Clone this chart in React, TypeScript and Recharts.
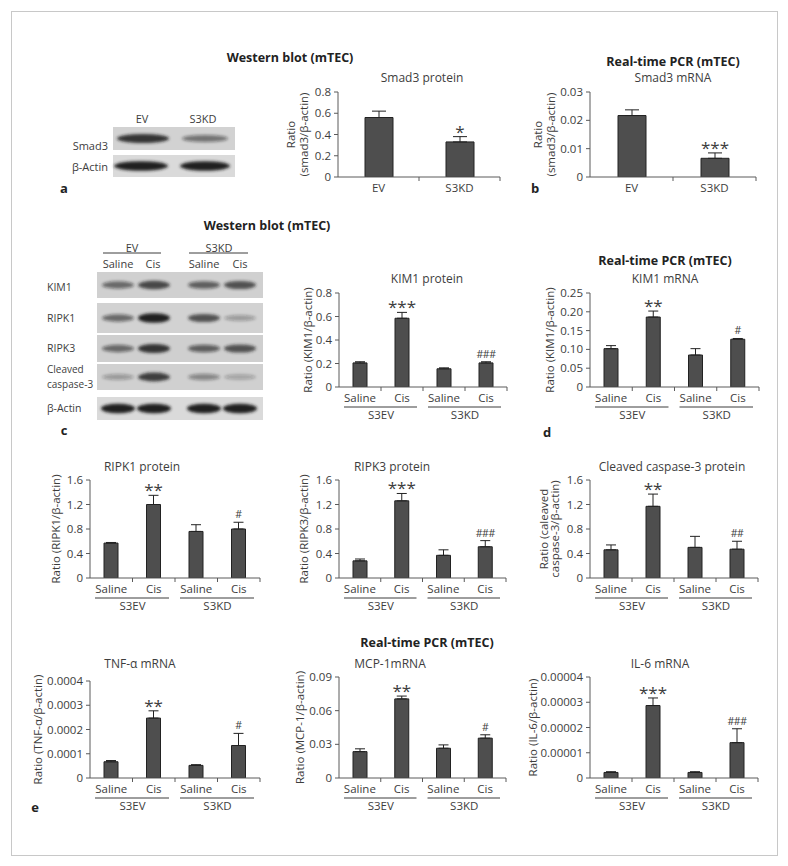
import React from 'react';
import { BarChart, Bar, XAxis, YAxis, ErrorBar, LabelList } from 'recharts';

// categories
const pairCats = ['EV', 'S3KD'];
const treatCats = ['Saline', 'Cis', 'Saline', 'Cis'];
const groupNames = ['S3EV', 'S3EV', 'S3KD', 'S3KD'];

// a: Smad3 protein
const smad3ProtMean = [0.56, 0.33];
const smad3ProtErr = [0.06, 0.05];
const smad3ProtSig = ['', '*'];
const smad3ProtTicks = [0, 0.2, 0.4, 0.6, 0.8];
const smad3ProtLabels = ['0', '0.2', '0.4', '0.6', '0.8'];

// b: Smad3 mRNA
const smad3MrnaMean = [0.0217, 0.0066];
const smad3MrnaErr = [0.002, 0.0019];
const smad3MrnaSig = ['', '***'];
const smad3MrnaTicks = [0, 0.01, 0.02, 0.03];
const smad3MrnaLabels = ['0', '0.01', '0.02', '0.03'];

// c: KIM1 protein
const kim1ProtMean = [0.205, 0.585, 0.155, 0.205];
const kim1ProtErr = [0.01, 0.05, 0.008, 0.01];
const kim1ProtSig = ['', '***', '', '###'];
const kim1ProtTicks = [0, 0.2, 0.4, 0.6, 0.8];
const kim1ProtLabels = ['0', '0.2', '0.4', '0.6', '0.8'];

// d: KIM1 mRNA
const kim1MrnaMean = [0.102, 0.186, 0.085, 0.127];
const kim1MrnaErr = [0.008, 0.016, 0.017, 0.002];
const kim1MrnaSig = ['', '**', '', '#'];
const kim1MrnaTicks = [0, 0.05, 0.1, 0.15, 0.2, 0.25];
const kim1MrnaLabels = ['0', '0.05', '0.10', '0.15', '0.20', '0.25'];

// row 3: proteins
const ripk1Mean = [0.57, 1.2, 0.76, 0.8];
const ripk1Err = [0.01, 0.15, 0.11, 0.11];
const ripk1Sig = ['', '**', '', '#'];
const ripk3Mean = [0.28, 1.26, 0.37, 0.51];
const ripk3Err = [0.03, 0.12, 0.09, 0.1];
const ripk3Sig = ['', '***', '', '###'];
const casp3Mean = [0.46, 1.17, 0.5, 0.47];
const casp3Err = [0.08, 0.2, 0.18, 0.13];
const casp3Sig = ['', '**', '', '##'];
const proteinTicks = [0, 0.4, 0.8, 1.2, 1.6];
const proteinLabels = ['0', '0.4', '0.8', '1.2', '1.6'];

// e: mRNA
const tnfMean = [0.000067, 0.000247, 0.000052, 0.000134];
const tnfErr = [0.000005, 0.00003, 0.000003, 0.00005];
const tnfSig = ['', '**', '', '#'];
const tnfTicks = [0, 0.0001, 0.0002, 0.0003, 0.0004];
const tnfLabels = ['0', '0.0001', '0.0002', '0.0003', '0.0004'];
const mcp1Mean = [0.0235, 0.0705, 0.0265, 0.0355];
const mcp1Err = [0.0025, 0.0025, 0.003, 0.003];
const mcp1Sig = ['', '**', '', '#'];
const mcp1Ticks = [0, 0.03, 0.06, 0.09];
const mcp1Labels = ['0', '0.03', '0.06', '0.09'];
const il6Mean = [0.0000022, 0.0000287, 0.0000022, 0.000014];
const il6Err = [0.0000003, 0.000003, 0.0000003, 0.0000055];
const il6Sig = ['', '***', '', '###'];
const il6Ticks = [0, 0.00001, 0.00002, 0.00003, 0.00004];
const il6Labels = ['0', '0.00001', '0.00002', '0.00003', '0.00004'];

const FONT = '"Open Sans", "Noto Sans", sans-serif';
const TXT = '#3d3d3d';
const AX = '#5a5a5a';
const BAR = '#4e4e4e';
const EDGE = '#222';

type Rect = { x: number; y: number; w: number; h: number };

interface PanelProps {
  cats: string[];
  groups?: string[];
  mean: number[];
  err: number[];
  sig: string[];
  ticks: number[];
  tickLabels: string[];
  plot: Rect;
  barSize: number;
  cap: number;
  ylabel: { text: string; dist: number }[];
}

const YW = 72;
const XH = 40;
const MT = 14;
const MR = 12;

const BarPanel: React.FC<PanelProps> = (p) => {
  const n = p.cats.length;
  const bw = p.plot.w / n;
  const data = p.cats.map((c, i) => ({
    key: `${p.groups ? p.groups[i] : ''}-${c}-${i}`,
    mean: p.mean[i],
    err: [0, p.err[i]],
  }));
  const width = p.plot.w + YW + MR;
  const height = p.plot.h + MT + XH;

  const renderTick = (props: any) => {
    const { x, y } = props;
    const i = props.index;
    const left = x - bw / 2;
    return (
      <g>
        {i > 0 && <line x1={left} y1={y} x2={left} y2={y + 4} stroke={AX} />}
        {i === n - 1 && <line x1={x + bw / 2} y1={y} x2={x + bw / 2} y2={y + 4} stroke={AX} />}
        <text x={x} y={y + 15} textAnchor="middle" fontSize={11.5} fill={TXT} fontFamily={FONT}>
          {p.cats[i]}
        </text>
        {p.groups && i % 2 === 0 && (
          <g>
            <line x1={left + 5} y1={y + 20} x2={left + 2 * bw - 6} y2={y + 20} stroke={TXT} strokeWidth={1} />
            <text x={left + bw} y={y + 32} textAnchor="middle" fontSize={11.5} fill={TXT} fontFamily={FONT}>
              {p.groups[i]}
            </text>
          </g>
        )}
      </g>
    );
  };

  const renderSig = (props: any) => {
    const { x, y, width: w, height: h, index } = props;
    const s = p.sig[index];
    if (!s) return null;
    const top = y - (p.err[index] * h) / p.mean[index];
    const star = s[0] === '*';
    return (
      <text
        x={x + w / 2}
        y={star ? top + 1 : top - 4}
        textAnchor="middle"
        fontSize={star ? 17 : 10.5}
        fill={TXT}
        fontFamily={FONT}
        letterSpacing={star ? 0 : -0.5}
      >
        {s}
      </text>
    );
  };

  const cx = YW;
  const cy = MT + p.plot.h / 2;

  return (
    <div style={{ position: 'absolute', left: p.plot.x - YW, top: p.plot.y - MT, width, height }}>
      <BarChart width={width} height={height} data={data} margin={{ top: MT, right: MR, left: 0, bottom: 0 }}>
        <XAxis
          dataKey="key"
          height={XH}
          interval={0}
          tickLine={false}
          tickSize={0}
          tickMargin={0}
          axisLine={{ stroke: AX }}
          tick={renderTick}
        />
        <YAxis
          width={YW}
          domain={[p.ticks[0], p.ticks[p.ticks.length - 1]]}
          ticks={p.ticks}
          interval={0}
          allowDataOverflow
          tickFormatter={(v: number) => p.tickLabels[p.ticks.indexOf(v)] ?? String(v)}
          tickSize={4}
          tickMargin={3}
          axisLine={{ stroke: AX }}
          tickLine={{ stroke: AX }}
          tick={{ fontSize: 11.5, fill: TXT, fontFamily: FONT }}
        />
        <Bar dataKey="mean" fill={BAR} stroke={EDGE} strokeWidth={1} barSize={p.barSize} isAnimationActive={false}>
          <ErrorBar dataKey="err" width={p.cap} stroke={EDGE} strokeWidth={1} direction="y" isAnimationActive={false} />
          <LabelList dataKey="mean" content={renderSig} />
        </Bar>
      </BarChart>
      <svg width={YW} height={height} style={{ position: 'absolute', left: 0, top: 0, pointerEvents: 'none' }}>
        {p.ylabel.map((l, i) => (
          <text
            key={i}
            x={cx - l.dist}
            y={cy}
            transform={`rotate(-90 ${cx - l.dist} ${cy})`}
            textAnchor="middle"
            dominantBaseline="central"
            fontSize={11.5}
            fill={TXT}
            fontFamily={FONT}
          >
            {l.text}
          </text>
        ))}
      </svg>
    </div>
  );
};

type Lane = { cx: number; w: number; k: number };

const BlotRow: React.FC<{ x: number; y: number; w: number; h: number; lanes: Lane[]; bg?: string }> = ({ x, y, w, h, lanes, bg }) => (
  <g>
    <rect x={x} y={y} width={w} height={h} fill={bg ?? '#d4d4d4'} />
    {lanes.map((l, i) => (
      <ellipse
        key={i}
        cx={l.cx}
        cy={y + h / 2}
        rx={l.w / 2}
        ry={2 + l.k * 3}
        fill={`rgba(25,25,25,${l.k})`}
        filter="url(#blur)"
      />
    ))}
  </g>
);

const T: React.FC<{ x: number; y: number; s?: number; b?: boolean; a?: 'start' | 'middle' | 'end'; children: React.ReactNode }> = ({ x, y, s = 12, b, a = 'middle', children }) => (
  <text x={x} y={y} fontSize={s} fontWeight={b ? 700 : 400} textAnchor={a} fill={b ? '#222' : TXT} fontFamily={FONT} dominantBaseline="central">
    {children}
  </text>
);

const cLanes = [118, 154, 204, 240];

export default function App() {
  return (
    <div style={{ position: 'absolute', left: 0, top: 0, width: 788, height: 866, background: '#fff', fontFamily: FONT }}>
      <div style={{ position: 'absolute', left: 11, top: 11, width: 765, height: 843, border: '1px solid #c8c8c8' }} />

      <BarPanel cats={pairCats} mean={smad3ProtMean} err={smad3ProtErr} sig={smad3ProtSig} ticks={smad3ProtTicks} tickLabels={smad3ProtLabels}
        plot={{ x: 338, y: 92, w: 162, h: 85 }} barSize={28} cap={7}
        ylabel={[{ text: 'Ratio', dist: 48 }, { text: '(smad3/β-actin)', dist: 35 }]} />
      <BarPanel cats={pairCats} mean={smad3MrnaMean} err={smad3MrnaErr} sig={smad3MrnaSig} ticks={smad3MrnaTicks} tickLabels={smad3MrnaLabels}
        plot={{ x: 590, y: 92, w: 166, h: 85 }} barSize={28} cap={7}
        ylabel={[{ text: 'Ratio', dist: 53 }, { text: '(smad3/β-actin)', dist: 40 }]} />

      <BarPanel cats={treatCats} groups={groupNames} mean={kim1ProtMean} err={kim1ProtErr} sig={kim1ProtSig} ticks={kim1ProtTicks} tickLabels={kim1ProtLabels}
        plot={{ x: 339, y: 293, w: 168, h: 94 }} barSize={14} cap={5}
        ylabel={[{ text: 'Ratio (KIM1/β-actin)', dist: 32 }]} />
      <BarPanel cats={treatCats} groups={groupNames} mean={kim1MrnaMean} err={kim1MrnaErr} sig={kim1MrnaSig} ticks={kim1MrnaTicks} tickLabels={kim1MrnaLabels}
        plot={{ x: 590, y: 293, w: 169, h: 94 }} barSize={14} cap={5}
        ylabel={[{ text: 'Ratio (KIM1/β-actin)', dist: 41 }]} />

      <BarPanel cats={treatCats} groups={groupNames} mean={ripk1Mean} err={ripk1Err} sig={ripk1Sig} ticks={proteinTicks} tickLabels={proteinLabels}
        plot={{ x: 90, y: 480, w: 170, h: 98 }} barSize={14} cap={5}
        ylabel={[{ text: 'Ratio (RIPK1/β-actin)', dist: 35 }]} />
      <BarPanel cats={treatCats} groups={groupNames} mean={ripk3Mean} err={ripk3Err} sig={ripk3Sig} ticks={proteinTicks} tickLabels={proteinLabels}
        plot={{ x: 339, y: 480, w: 167, h: 98 }} barSize={14} cap={5}
        ylabel={[{ text: 'Ratio (RIPK3/β-actin)', dist: 36 }]} />
      <BarPanel cats={treatCats} groups={groupNames} mean={casp3Mean} err={casp3Err} sig={casp3Sig} ticks={proteinTicks} tickLabels={proteinLabels}
        plot={{ x: 590, y: 480, w: 168, h: 98 }} barSize={14} cap={5}
        ylabel={[{ text: 'Ratio (caleaved', dist: 47 }, { text: 'caspase-3/β-actin)', dist: 36 }]} />

      <BarPanel cats={treatCats} groups={groupNames} mean={tnfMean} err={tnfErr} sig={tnfSig} ticks={tnfTicks} tickLabels={tnfLabels}
        plot={{ x: 90, y: 681, w: 170, h: 97 }} barSize={14} cap={5}
        ylabel={[{ text: 'Ratio (TNF-α/β-actin)', dist: 53 }]} />
      <BarPanel cats={treatCats} groups={groupNames} mean={mcp1Mean} err={mcp1Err} sig={mcp1Sig} ticks={mcp1Ticks} tickLabels={mcp1Labels}
        plot={{ x: 339, y: 677, w: 167, h: 101 }} barSize={14} cap={5}
        ylabel={[{ text: 'Ratio (MCP-1/β-actin)', dist: 40 }]} />
      <BarPanel cats={treatCats} groups={groupNames} mean={il6Mean} err={il6Err} sig={il6Sig} ticks={il6Ticks} tickLabels={il6Labels}
        plot={{ x: 590, y: 677, w: 168, h: 101 }} barSize={14} cap={5}
        ylabel={[{ text: 'Ratio (IL-6/β-actin)', dist: 58 }]} />

      <svg width={788} height={866} style={{ position: 'absolute', left: 0, top: 0, pointerEvents: 'none' }}>
        <defs>
          <filter id="blur" x="-20%" y="-100%" width="140%" height="300%">
            <feGaussianBlur stdDeviation="1.6" />
          </filter>
        </defs>

        {/* headers and titles */}
        <T x={290} y={57} s={12.5} b>Western blot (mTEC)</T>
        <T x={422} y={77}>Smad3 protein</T>
        <T x={673} y={61} s={12.5} b>Real-time PCR (mTEC)</T>
        <T x={673} y={77}>Smad3 mRNA</T>

        <T x={267} y={225} s={12.5} b>Western blot (mTEC)</T>
        <T x={427} y={278}>KIM1 protein</T>
        <T x={665} y={260} s={12.5} b>Real-time PCR (mTEC)</T>
        <T x={665} y={278}>KIM1 mRNA</T>

        <T x={142} y={466}>RIPK1 protein</T>
        <T x={392} y={466}>RIPK3 protein</T>
        <T x={672} y={466}>Cleaved caspase-3 protein</T>

        <T x={427} y={642} s={12.5} b>Real-time PCR (mTEC)</T>
        <T x={140} y={663}>TNF-α mRNA</T>
        <T x={390} y={663}>MCP-1mRNA</T>
        <T x={660} y={663}>IL-6 mRNA</T>

        {/* panel letters */}
        <T x={64} y={188} s={13} b>a</T>
        <T x={535} y={188} s={13} b>b</T>
        <T x={64} y={430} s={13} b>c</T>
        <T x={547} y={432} s={13} b>d</T>
        <T x={35} y={807} s={13} b>e</T>

        {/* blot a */}
        <T x={142} y={118} s={11}>EV</T>
        <T x={203} y={118} s={11}>S3KD</T>
        <T x={108} y={145} s={11} a="end">Smad3</T>
        <T x={108} y={166} s={11} a="end">β-Actin</T>
        <BlotRow x={113} y={127} w={122} h={23} bg="#d2d2d2"
          lanes={[{ cx: 143, w: 52, k: 0.85 }, { cx: 205, w: 46, k: 0.5 }]} />
        <BlotRow x={113} y={155} w={122} h={22} bg="#dadada"
          lanes={[{ cx: 141, w: 54, k: 0.95 }, { cx: 205, w: 50, k: 0.95 }]} />

        {/* blot c */}
        <T x={132} y={247} s={11}>EV</T>
        <T x={219} y={247} s={11}>S3KD</T>
        <line x1={103} y1={253} x2={161} y2={253} stroke={TXT} />
        <line x1={189} y1={253} x2={248} y2={253} stroke={TXT} />
        <T x={118} y={263} s={11}>Saline</T>
        <T x={153} y={263} s={11}>Cis</T>
        <T x={204} y={263} s={11}>Saline</T>
        <T x={240} y={263} s={11}>Cis</T>
        <T x={47} y={287} s={10.5} a="start">KIM1</T>
        <T x={47} y={318} s={10.5} a="start">RIPK1</T>
        <T x={47} y={348} s={10.5} a="start">RIPK3</T>
        <T x={47} y={369} s={10} a="start">Cleaved</T>
        <T x={47} y={384} s={10} a="start">caspase-3</T>
        <T x={47} y={408} s={10.5} a="start">β-Actin</T>
        <BlotRow x={97} y={272} w={166} h={26} bg="#d0d0d0"
          lanes={cLanes.map((c, i) => ({ cx: c, w: 32, k: [0.55, 0.75, 0.6, 0.7][i] }))} />
        <BlotRow x={97} y={303} w={166} h={30} bg="#d2d2d2"
          lanes={cLanes.map((c, i) => ({ cx: c, w: 32, k: [0.55, 0.95, 0.7, 0.3][i] }))} />
        <BlotRow x={97} y={335} w={166} h={27} bg="#cfcfcf"
          lanes={cLanes.map((c, i) => ({ cx: c, w: 32, k: [0.55, 0.85, 0.6, 0.7][i] }))} />
        <BlotRow x={97} y={364} w={166} h={26} bg="#d0d0d0"
          lanes={cLanes.map((c, i) => ({ cx: c, w: 32, k: [0.3, 0.8, 0.4, 0.25][i] }))} />
        <BlotRow x={97} y={397} w={166} h={23} bg="#dadada"
          lanes={cLanes.map((c) => ({ cx: c, w: 34, k: 0.95 }))} />
      </svg>
    </div>
  );
}
